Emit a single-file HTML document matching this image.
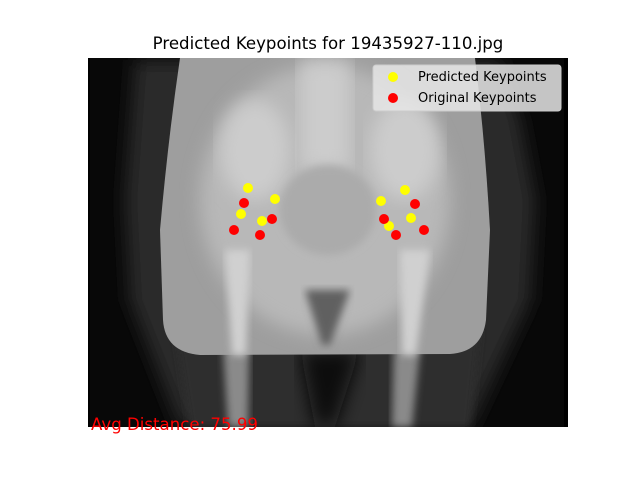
<!DOCTYPE html>
<html><head><meta charset="utf-8"><style>
body{margin:0;background:#fff;width:640px;height:480px;overflow:hidden}
svg{display:block;font-family:"DejaVu Sans","Liberation Sans",sans-serif}
</style></head><body>
<svg width="640" height="480" viewBox="0 0 640 480">
<defs>
<filter id="b4"><feGaussianBlur stdDeviation="4"/></filter>
<filter id="b8"><feGaussianBlur stdDeviation="9"/></filter>
<clipPath id="ax"><rect x="88" y="58" width="480" height="369"/></clipPath>
</defs>
<text x="328" y="49" font-size="16.6" text-anchor="middle" fill="#000">Predicted Keypoints for 19435927-110.jpg</text>
<g clip-path="url(#ax)">
<rect x="88" y="58" width="480" height="369" fill="#000"/>
<rect x="90" y="58" width="474" height="369" fill="#080808"/>
<path d="M135 60 L500 60 L520 120 L535 200 L530 300 L470 427 L180 427 L130 300 L125 200 Z" fill="#2a2a2a" filter="url(#b8)"/>
<path d="M175 330 L480 330 L470 427 L190 427 Z" fill="#2e2e2e" filter="url(#b4)"/>
<path d="M220 300 L250 300 L248 427 L228 427 Z" fill="#8a8a8a" filter="url(#b4)"/>
<path d="M395 300 L425 300 L412 427 L392 427 Z" fill="#8a8a8a" filter="url(#b4)"/>
<path d="M300 350 L360 350 L335 427 L315 427 Z" fill="#080808" filter="url(#b8)"/>
<path d="M180 58 L475 58 Q485 140 490 230 L486 320 Q482 352 450 354 L200 355 Q165 352 163 320 L160 230 Q168 140 180 58 Z" fill="#9e9e9e"/>
<ellipse cx="325" cy="200" rx="125" ry="135" fill="#b8b8b8" filter="url(#b8)"/>
<ellipse cx="255" cy="150" rx="35" ry="50" fill="#cccccc" filter="url(#b8)"/>
<ellipse cx="405" cy="150" rx="35" ry="50" fill="#cccccc" filter="url(#b8)"/>
<rect x="300" y="60" width="50" height="110" fill="#cccccc" filter="url(#b8)"/>
<ellipse cx="328" cy="210" rx="48" ry="45" fill="#ababab" filter="url(#b4)"/>
<path d="M225 250 L250 250 L246 355 L232 355 Z" fill="#d0d0d0" filter="url(#b4)"/>
<path d="M400 250 L430 250 L416 355 L402 355 Z" fill="#d0d0d0" filter="url(#b4)"/>
<path d="M305 290 L350 290 L330 345 L322 345 Z" fill="#606060" filter="url(#b4)"/>
</g>
<g id="marks"></g>
<g>
<rect x="373" y="65" width="188" height="46" rx="3" fill="#e6e6e6" fill-opacity="0.85" stroke="#cccccc"/>
<circle cx="393" cy="77" r="5" fill="#ffff00"/>
<text x="418" y="81" font-size="13">Predicted Keypoints</text>
<circle cx="393" cy="98" r="5" fill="#ff0000"/>
<text x="418" y="102" font-size="13">Original Keypoints</text>
</g>
<text x="91" y="430" font-size="16.6" fill="#ff0000">Avg Distance: 75.99</text>
</svg>
<script>
const predX=[160,187,153,174,293,317,301,323];
const predY=[130,141,156,163,143,132,168,160];
const origX=[156,184,146,172,296,327,308,336];
const origY=[145,161,172,177,161,146,177,172];
const X0=88,Y0=58;
const sx=v=>X0+v, sy=v=>Y0+v;
const g=document.getElementById('marks');
function dot(x,y,c,n){
 const el=document.createElementNS('http://www.w3.org/2000/svg','circle');
 el.setAttribute('cx',sx(x));el.setAttribute('cy',sy(y));el.setAttribute('r',5);el.setAttribute('fill',c);
 
 
 g.appendChild(el);
}
predX.forEach((x,i)=>dot(x,predY[i],'#ffff00','predicted-keypoint'));
origX.forEach((x,i)=>dot(x,origY[i],'#ff0000','original-keypoint'));
</script>
</body></html>
